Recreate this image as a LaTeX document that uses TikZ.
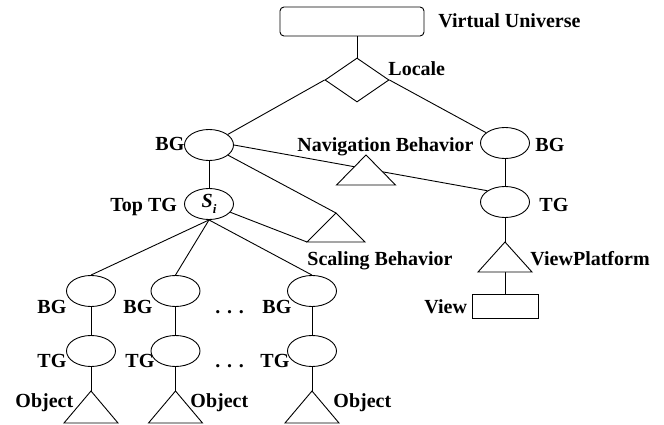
\documentclass[tikz,border=0pt]{standalone}
\usepackage{fontspec}
\setmainfont{Liberation Serif}
\usetikzlibrary{shapes.geometric}
\begin{document}
\begin{tikzpicture}[x=1pt,y=-1pt,
  line width=0.9pt,
  ell/.style={draw,ellipse,minimum width=49pt,minimum height=31pt,inner sep=0pt},
  lbl/.style={anchor=base west,inner sep=0pt,font=\fontsize{20}{24}\selectfont\bfseries},
  tri/.style={draw,fill=white,line join=miter}]
\useasboundingbox (0,0) rectangle (664,425);
% nodes
\node[draw,rounded corners=4pt,minimum width=144pt,minimum height=29pt,inner sep=0pt] (vu) at (352,21.5) {};
\node[draw,diamond,minimum width=64pt,minimum height=44pt,inner sep=0pt] (loc) at (357,80) {};
\node[ell] (lbg) at (209,145) {};
\node[ell] (rbg) at (505,143) {};
\node[ell] (rtg) at (505,202) {};
\node[ell,font=\fontsize{20}{24}\selectfont\bfseries\itshape] (si) at (209,204) {S\raisebox{-0.3em}{\fontsize{13}{13}\selectfont i}};
\node[ell] (bg1) at (91,291) {};
\node[ell] (bg2) at (175.5,291) {};
\node[ell] (bg3) at (312,291) {};
\node[ell] (tg1) at (91,351) {};
\node[ell] (tg2) at (175.5,351) {};
\node[ell] (tg3) at (312,351) {};
\node[draw,minimum width=66pt,minimum height=24pt,inner sep=0pt] (view) at (505,306) {};
% triangle apexes and base points
\coordinate (navtop) at (366,155);
\coordinate (sbtop) at (336,213);
\coordinate (sbleft) at (307,242);
\coordinate (vptop) at (505,242);
\coordinate (vpbase) at (505,272);
\coordinate (ob1) at (91,391);
\coordinate (ob2) at (175.5,391);
\coordinate (ob3) at (312,391);
% connectors
\draw (loc.north) -- (loc.north |- vu.south);
\draw (loc.west) -- (lbg);
\draw (loc.east) -- (rbg);
\draw (lbg.east) -- (rtg.north west);
\draw (lbg) -- (sbtop);
\draw (si) -- (sbleft);
\draw (lbg) -- (si);
\draw (rbg) -- (rtg);
\draw (rtg) -- (vptop);
\draw (vpbase) -- (view.north);
\foreach \i in {1,2,3}{
  \draw (si.south) -- (bg\i.north);
  \draw (bg\i) -- (tg\i);
  \draw (tg\i) -- (ob\i);
}
% triangles
\draw[tri] (navtop) -- ++(-29.5,30) -- ++(59,0) -- cycle;
\draw[tri] (sbtop) -- (sbleft) -- ++(58,0) -- cycle;
\draw[tri] (vptop) -- (vpbase -| 478,0) -- (vpbase -| 532,0) -- cycle;
\foreach \i in {1,2,3}{
  \draw[tri] (ob\i) -- ++(-27,32) -- ++(54,0) -- cycle;
}
% labels
\node[lbl] (tvu) at (438,28) {Virtual Universe};
\node[lbl] (tloc) at (388,76) {Locale};
\node[lbl] (tnav) at (297,152) {Navigation Behavior};
\node[lbl] (trbg) at (535,152) {BG};
\node[lbl] (tlbg) at (155,151) {BG};
\node[lbl] (ttop) at (110,211) {Top TG};
\node[lbl] (tsb) at (307,265) {Scaling Behavior};
\node[lbl] (trtg) at (539,211) {TG};
\node[lbl] (tvp) at (530,265) {ViewPlatform};
\node[lbl] (tview) at (424,313) {View};
\node[lbl] (tbg1) at (37,313) {BG};
\node[lbl] (tbg2) at (123,313) {BG};
\node[lbl] (tbg3) at (262,313) {BG};
\node[lbl] (ttg1) at (37,367) {TG};
\node[lbl] (ttg2) at (125,367) {TG};
\node[lbl] (ttg3) at (260,367) {TG};
\node[lbl] (tob1) at (15,407) {Object};
\node[lbl] (tob2) at (190,407) {Object};
\node[lbl] (tob3) at (333,407) {Object};
\node[lbl] (dots1) at (215,313) {. . .};
\node[lbl] (dots2) at (215,367) {. . .};
\end{tikzpicture}
\end{document}
